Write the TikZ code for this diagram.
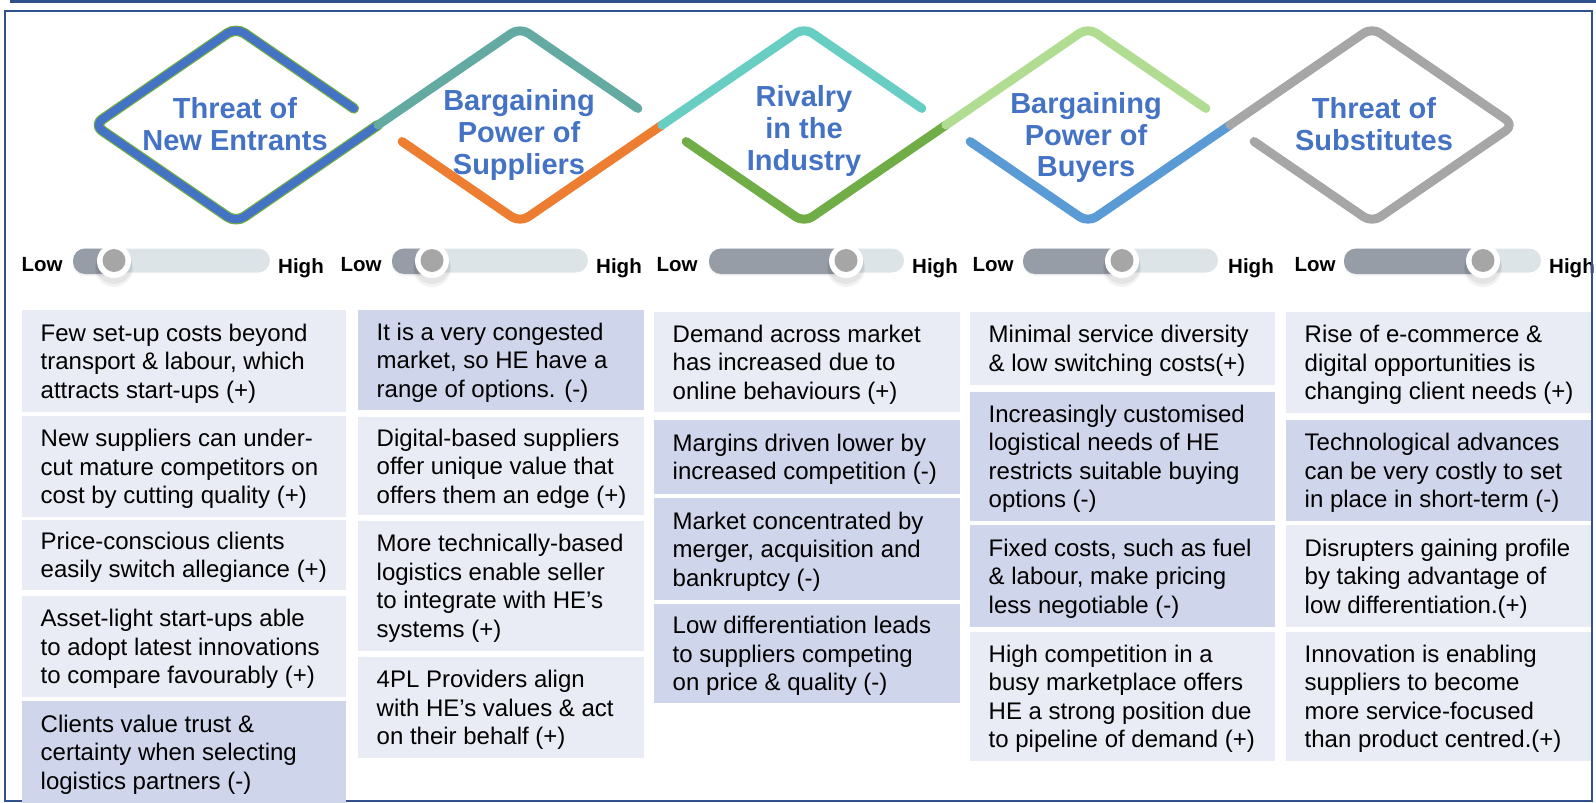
\documentclass[tikz,border=0pt]{standalone}
\usepackage{fontspec}
\setmainfont{Liberation Sans}
\usetikzlibrary{calc}

\definecolor{frameblue}{RGB}{47,82,143}
\definecolor{titleblue}{RGB}{68,114,196}
\definecolor{oneblue}{RGB}{68,114,196}
\definecolor{oneedge}{RGB}{112,173,71}
\definecolor{tealA}{RGB}{98,170,162}
\definecolor{orangeA}{RGB}{237,125,49}
\definecolor{turqA}{RGB}{104,206,196}
\definecolor{greenA}{RGB}{112,173,71}
\definecolor{lgreenA}{RGB}{176,221,146}
\definecolor{blueB}{RGB}{91,155,213}
\definecolor{grayA}{RGB}{166,166,166}
\definecolor{boxlight}{RGB}{233,235,245}
\definecolor{boxdark}{RGB}{207,213,234}
\definecolor{trackL}{RGB}{220,228,231}
\definecolor{trackD}{RGB}{150,157,167}
\definecolor{knobgray}{RGB}{166,166,166}

% one factor box: name, fill, left, top, width, height, text
\newcommand{\porterbox}[7]{%
  \node[factorbox,fill=#2,minimum width=#5pt,minimum height=#6pt] (#1) at (#3,#4) {};
  \node[factortext] (#1t) at (#1.west) {#7};
}
% one slider: index, low-label x, track start, track end, knob x, high-label x
\newcommand{\porterslider}[6]{%
  \node[lohi] (lo#1) at (#2,271.5) {Low};
  \fill[trackL,rounded corners=12pt] (#3,248.5) rectangle (#4,272.5);
  \fill[black,opacity=0.05,rounded corners=12pt] (#3,250) rectangle (#5+4,276);
  \fill[trackD,rounded corners=12pt] (#3,248.5) rectangle (#5+4,274);
  \fill[black,opacity=0.05] (#5,268) circle (19pt);
  \fill[black,opacity=0.06] (#5,266) circle (18pt);
  \fill[white] (#5,261) circle (17pt);
  \fill[knobgray] (#5,260.5) circle (11.5pt);
  \node[lohi] (hi#1) at (#6,273.5) {High};
}

\begin{document}
\begin{tikzpicture}[x=1pt,y=-1pt,
  factorbox/.style={draw=none,inner sep=0pt,outer sep=0pt,anchor=north west},
  factortext/.style={anchor=west,xshift=18.5pt,yshift=-2.5pt,align=left,inner sep=0pt,
    font=\fontsize{24}{28.5}\selectfont,text=black},
  forcetitle/.style={align=center,inner sep=0pt,text=titleblue,
    font=\bfseries\fontsize{29}{31.8}\selectfont},
  lohi/.style={anchor=base,inner sep=0pt,font=\bfseries\fontsize{20.5}{22}\selectfont},
  dia/.style={line width=9pt,line cap=round,line join=round,rounded corners=10pt},
]
\useasboundingbox (0,0) rectangle (1596,803);

% diamond vertices
\foreach \k in {1,...,5}{
  \pgfmathsetmacro\cx{236+284*(\k-1)}
  \coordinate (T\k) at (\cx,27.5);
  \coordinate (L\k) at (\cx-142,125);
  \coordinate (B\k) at (\cx,222.5);
  \coordinate (R\k) at (\cx+142,125);
}

% chain of diamonds
\draw[dia,oneedge,line width=10.5pt] ($(T1)!0.83!(R1)$) -- (T1) -- (L1) -- (B1) -- (R1);
\draw[dia,oneblue,line width=8pt] ($(T1)!0.83!(R1)$) -- (T1) -- (L1) -- (B1) -- (R1);
\draw[dia,tealA] (L2) -- (T2) -- ($(T2)!0.83!(R2)$);
\draw[dia,orangeA] ($(L2)!0.17!(B2)$) -- (B2) -- (R2);
\draw[dia,turqA] (L3) -- (T3) -- ($(T3)!0.83!(R3)$);
\draw[dia,greenA] ($(L3)!0.17!(B3)$) -- (B3) -- (R3);
\draw[dia,lgreenA] (L4) -- (T4) -- ($(T4)!0.83!(R4)$);
\draw[dia,blueB] ($(L4)!0.17!(B4)$) -- (B4) -- (R4);
\draw[dia,grayA] (L5) -- (T5) -- (R5) -- (B5) -- ($(L5)!0.17!(B5)$);

% force titles
\node[forcetitle] (t1) at (235,124) {Threat of\\New Entrants};
\node[forcetitle] (t2) at (519,135) {Bargaining\\Power of\\Suppliers};
\node[forcetitle] (t3) at (804,131) {Rivalry\\in the\\Industry};
\node[forcetitle] (t4) at (1086,137.5) {Bargaining\\Power of\\Buyers};
\node[forcetitle] (t5) at (1374,124) {Threat of\\Substitutes};

% low/high sliders
\porterslider{1}{42}{73}{270}{114}{301}
\porterslider{2}{361}{392}{588}{432}{619}
\porterslider{3}{677}{709}{904}{846}{935}
\porterslider{4}{993}{1023}{1218}{1122}{1251}
\porterslider{5}{1315}{1344}{1541}{1483}{1572}

% outer frame
\draw[frameblue,line width=3pt] (10,1.5) -- (1596,1.5);
\draw[frameblue,line width=2.5pt] (5,11) rectangle (1592,801);

% column 1
\porterbox{a1}{boxlight}{22}{310}{324}{102}{Few set-up costs beyond\\transport \& labour, which\\attracts start-ups (+)}
\porterbox{a2}{boxlight}{22}{416}{324}{101}{New suppliers can under-\\cut mature competitors on\\cost by cutting quality (+)}
\porterbox{a3}{boxlight}{22}{520}{324}{70}{Price-conscious clients\\easily switch allegiance (+)}
\porterbox{a4}{boxlight}{22}{596}{324}{101}{Asset-light start-ups able\\to adopt latest innovations\\to compare favourably (+)}
\porterbox{a5}{boxdark}{22}{701}{324}{102}{Clients value trust \&\\certainty when selecting\\logistics partners (-)}

% column 2
\porterbox{b1}{boxdark}{358}{310}{286}{100}{It is a very congested\\market, so HE have a\\range of options. (-)}
\porterbox{b2}{boxlight}{358}{417}{286}{98}{Digital-based suppliers\\offer unique value that\\offers them an edge (+)}
\porterbox{b3}{boxlight}{358}{521}{286}{130}{More technically-based\\logistics enable seller\\to integrate with HE’s\\systems (+)}
\porterbox{b4}{boxlight}{358}{657}{286}{101}{4PL Providers align\\with HE’s values \& act\\on their behalf (+)}

% column 3
\porterbox{c1}{boxlight}{654}{312}{306}{100}{Demand across market\\has increased due to\\online behaviours (+)}
\porterbox{c2}{boxdark}{654}{420}{306}{74}{Margins driven lower by\\increased competition (-)}
\porterbox{c3}{boxdark}{654}{498}{306}{102}{Market concentrated by\\merger, acquisition and\\bankruptcy (-)}
\porterbox{c4}{boxdark}{654}{604}{306}{99}{Low differentiation leads\\to suppliers competing\\on price \& quality (-)}

% column 4
\porterbox{d1}{boxlight}{970}{312}{305}{73}{Minimal service diversity\\\& low switching costs(+)}
\porterbox{d2}{boxdark}{970}{392}{305}{129}{Increasingly customised\\logistical needs of HE\\restricts suitable buying\\options (-)}
\porterbox{d3}{boxdark}{970}{525}{305}{102}{Fixed costs, such as fuel\\\& labour, make pricing\\less negotiable (-)}
\porterbox{d4}{boxlight}{970}{632}{305}{129}{High competition in a\\busy marketplace offers\\HE a strong position due\\to pipeline of demand (+)}

% column 5
\porterbox{e1}{boxlight}{1286}{312}{305}{101}{Rise of e-commerce \&\\digital opportunities is\\changing client needs (+)}
\porterbox{e2}{boxdark}{1286}{420}{305}{101}{Technological advances\\can be very costly to set\\in place in short-term (-)}
\porterbox{e3}{boxlight}{1286}{525}{305}{102}{Disrupters gaining profile\\by taking advantage of\\low differentiation.(+)}
\porterbox{e4}{boxlight}{1286}{632}{305}{129}{Innovation is enabling\\suppliers to become\\more service-focused\\than product centred.(+)}
\end{tikzpicture}
\end{document}
